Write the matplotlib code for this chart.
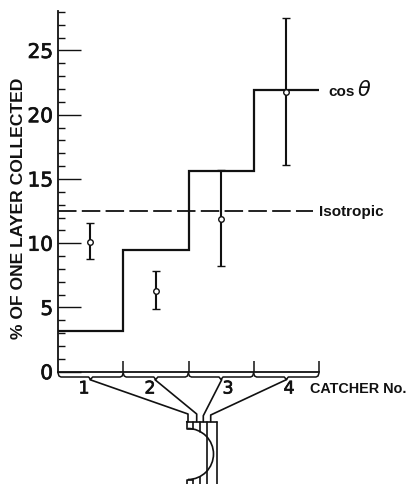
import matplotlib as mpl
mpl.use('Agg')
import matplotlib.pyplot as plt
import matplotlib.patheffects as pe
from matplotlib.patches import Arc
import numpy as np

# step histogram for cos theta, one value per catcher
cos_values = [3.2, 9.5, 15.6, 21.9]
catcher_edges = [0, 1, 2, 3, 4]
isotropic = 12.5

# measured points with error bar limits
point_x = [0.49, 1.50, 2.50, 3.49]
point_y = [10.1, 6.3, 11.9, 21.8]
point_hi = [11.6, 7.8, 15.7, 27.5]
point_lo = [8.8, 4.9, 8.2, 16.1]

major_ticks = [0, 5, 10, 15, 20, 25]
minor_ticks = [t for t in range(1, 29) if t % 5 != 0]
catcher_labels = ['1', '2', '3', '4']

W, H = 407, 485
LEFT, RIGHT, TOP, BOTTOM = 58, 319, 12.3, 372.7
INK = '#111111'
NUM_FONT = 'DejaVu Sans'
TXT_FONT = 'Liberation Sans'
HEAVY = [pe.withStroke(linewidth=0.5, foreground=INK)]

fig = plt.figure(figsize=(W / 100, H / 100), dpi=100)
ax = fig.add_axes([LEFT / W, 1 - BOTTOM / H, (RIGHT - LEFT) / W, (BOTTOM - TOP) / H])
ax.set_xlim(0, 4)
ax.set_ylim(0, 28.05)
for side in ['top', 'right']:
    ax.spines[side].set_visible(False)
for side in ['left', 'bottom']:
    ax.spines[side].set_linewidth(1.3)
    ax.spines[side].set_color(INK)

ax.stairs(cos_values, catcher_edges, baseline=None, color=INK, lw=1.6)
ax.plot([0, 3.91], [isotropic, isotropic], color=INK, lw=1.3, dashes=(10.25, 2.93))
yerr = [np.array(point_y) - np.array(point_lo), np.array(point_hi) - np.array(point_y)]
ax.errorbar(point_x, point_y, yerr=yerr, fmt='o', ms=4, mfc='white', mec=INK, mew=1.0,
        ecolor=INK, elinewidth=1.5, capsize=2.6, capthick=1.3, clip_on=False)

ax.set_yticks(major_ticks)
ax.set_yticks(minor_ticks, minor=True)
ax.set_xticks(catcher_edges[1:])
ax.set_xticklabels([])
ax.tick_params(axis='y', which='major', direction='in', length=16.5, width=1.0, color=INK,
        pad=3.5, labelsize=14.5, labelcolor=INK)
ax.tick_params(axis='y', which='minor', direction='in', length=5, width=1.0, color=INK)
ax.tick_params(axis='x', direction='in', length=8, width=1.1, color=INK)
for label in ax.get_yticklabels():
    label.set_fontfamily(NUM_FONT)
    label.set_path_effects(HEAVY)

# overlay in pixel coordinates for the lettering and the target sketch
over = fig.add_axes([0, 0, 1, 1])
over.set_xlim(0, W)
over.set_ylim(H, 0)
over.axis('off')
over.patch.set_alpha(0)


def sketch(xs, ys, lw=1.2):
    over.plot(xs, ys, color=INK, lw=lw, solid_capstyle='round', solid_joinstyle='round')


# braces under the axis
brace_edges = [58, 123.2, 188.4, 253.6, 319]
for a, b in zip(brace_edges[:-1], brace_edges[1:]):
    mid = (a + b) / 2
    sketch([a, a + 1, a + 3, mid - 2, mid, mid + 2, b - 3, b - 1, b],
           [374, 377, 378, 378, 380.5, 378, 378, 377, 374], lw=1.1)

# wires from the catchers down to the target
sketch([90, 188, 188, 186.7], [380.7, 415, 422.7, 422.7])
sketch([155, 196.7, 196.7], [380.7, 415, 422.7])
sketch([221.7, 203.3, 203.3], [380.7, 416.7, 422.7])
sketch([286.7, 210.7, 210.7], [380.5, 416, 422.7])

# target block
sketch([186.7, 216.7], [422.7, 422.7])
sketch([216.7, 216.7], [422.7, 485])
sketch([206.7, 206.7], [422.7, 485])
sketch([200, 200], [422.7, 433])
sketch([193.3, 193.3], [422.7, 430])
sketch([186.7, 186.7, 193.3], [422.7, 430, 430])
sketch([186.7, 186.7, 193.3], [485, 481, 481])
sketch([193.3, 193.3], [481, 485])
sketch([200, 200], [478, 485])
over.add_patch(Arc((188, 455), 51, 51, theta1=-90, theta2=90, color=INK, lw=1.2))

over.text(19, 208, '% OF ONE LAYER COLLECTED', rotation=90, ha='center', va='center',
        fontsize=12.6, fontweight='bold', family=TXT_FONT, color=INK)
for x, label in zip([84, 150, 228, 289], catcher_labels):
    over.text(x, 389.5, label, ha='center', va='center', fontsize=12.5,
            family=NUM_FONT, color=INK, path_effects=HEAVY)
over.text(310, 389, 'CATCHER No.', ha='left', va='center', fontsize=10.4,
        fontweight='bold', family=TXT_FONT, color=INK)
over.text(319, 212, 'Isotropic', ha='left', va='center', fontsize=11,
        fontweight='bold', family=TXT_FONT, color=INK)
over.text(328, 92, 'cos', ha='left', va='center', fontsize=11,
        fontweight='bold', family=TXT_FONT, color=INK)
over.text(358, 90, '\u03b8', ha='left', va='center', fontsize=15,
        style='italic', family=NUM_FONT, color=INK)

fig.savefig('out.png', dpi=100)
plt.close('all')
